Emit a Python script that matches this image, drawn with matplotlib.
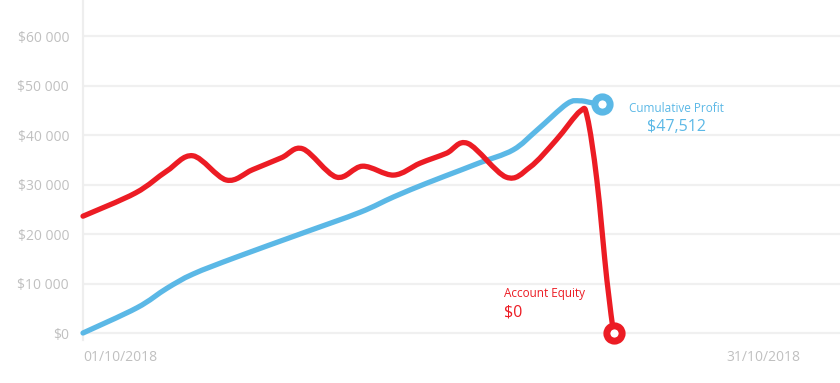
import numpy as np
import matplotlib
matplotlib.use("Agg")
import matplotlib.pyplot as plt
from matplotlib.path import Path
from matplotlib.patches import PathPatch

plt.rcParams['font.family'] = ['Open Sans', 'DejaVu Sans']

# day of October (fractional) and dollar values
equity_days = [1.0, 3.2, 4.5, 5.6, 7.0, 8.1, 9.3, 10.2, 11.6, 12.7, 14.0, 15.1,
               16.2, 17.1, 18.7, 19.7, 20.8, 21.8, 22.1, 22.5, 22.92, 23.2]
equity_values = [23600, 28300, 32700, 35800, 30900, 33000, 35400, 37200, 31500,
                 33700, 31900, 34300, 36300, 38300, 31500, 33500, 39000, 44800,
                 43600, 30900, 10700, 0]

profit_days = [1.0, 3.26, 4.5, 5.6, 7.4, 10.2, 12.6, 14.0, 15.4, 16.8, 17.6,
               19.0, 20.0, 21.25, 21.8, 22.3, 22.7]
profit_values = [0, 5100, 9000, 11900, 15300, 20200, 24400, 27500, 30300, 32900,
                 34400, 37000, 41000, 46300, 46900, 46500, 46300]

y_ticks = [0, 10000, 20000, 30000, 40000, 50000, 60000]
y_labels = ['$0', '$10 000', '$20 000', '$30 000', '$40 000', '$50 000', '$60 000']
x_ticks = [1, 31]
x_labels = ['01/10/2018', '31/10/2018']

profit_label = 'Cumulative Profit'
profit_text = '$47,512'
equity_label = 'Account Equity'
equity_text = '$0'

RED = '#ec1c24'
BLUE = '#5bb8e6'
GRID = '#f0f0f0'
TICK = '#c0c0c0'


def smooth_path(xs, ys):
    # catmull-rom spline turned into cubic bezier segments
    pts = np.column_stack([xs, ys]).astype(float)
    n = len(pts)
    verts = [pts[0]]
    codes = [Path.MOVETO]
    for i in range(n - 1):
        p0 = pts[max(i - 1, 0)]
        p1 = pts[i]
        p2 = pts[i + 1]
        p3 = pts[min(i + 2, n - 1)]
        verts += [p1 + (p2 - p0) / 6.0, p2 - (p3 - p1) / 6.0, p2]
        codes += [Path.CURVE4] * 3
    return Path(verts, codes)


fig = plt.figure(figsize=(8.4, 3.83), dpi=100)
ax = fig.add_axes([83 / 840, 43 / 383, 757 / 840, 340 / 383])

ax.set_xlim(1, 1 + 757 / 23.9)
ax.set_ylim(-1414, 67273)

for s in ['top', 'right', 'bottom']:
    ax.spines[s].set_visible(False)
ax.spines['left'].set_color('#eeeeee')
ax.spines['left'].set_linewidth(1.6)

ax.set_yticks(y_ticks)
ax.set_yticklabels(y_labels)
ax.yaxis.grid(True, color=GRID, linewidth=1.6)
ax.set_axisbelow(True)
ax.tick_params(axis='y', length=0, pad=10, labelcolor=TICK, labelsize=10)

ax.set_xticks([])
ax.text(x_ticks[0], -3500, x_labels[0], ha='left', va='top', color=TICK,
        fontsize=10)
ax.text(x_ticks[1], -3500, x_labels[1], ha='right', va='top', color=TICK,
        fontsize=10)

for days, vals, col in [(profit_days, profit_values, BLUE),
                        (equity_days, equity_values, RED)]:
    patch = PathPatch(smooth_path(days, vals), fill=False, edgecolor=col,
                      linewidth=3.8, capstyle='round', joinstyle='round',
                      clip_on=False, zorder=3)
    ax.add_patch(patch)
    ax.plot(days[-1], vals[-1], marker='o', markersize=11,
            markerfacecolor='white', markeredgecolor=col,
            markeredgewidth=5, clip_on=False, zorder=4)

ax.text(676 / 840, 1 - 108 / 383, profit_label, transform=fig.transFigure,
        ha='center', va='center', color=BLUE, fontsize=8.5)
ax.text(676 / 840, 1 - 127 / 383, profit_text, transform=fig.transFigure,
        ha='center', va='center', color=BLUE, fontsize=11.5)
ax.text(504 / 840, 1 - 294 / 383, equity_label, transform=fig.transFigure,
        ha='left', va='center', color=RED, fontsize=8.5)
ax.text(504 / 840, 1 - 312 / 383, equity_text, transform=fig.transFigure,
        ha='left', va='center', color=RED, fontsize=11.5)

fig.savefig('out.png', dpi=100)
